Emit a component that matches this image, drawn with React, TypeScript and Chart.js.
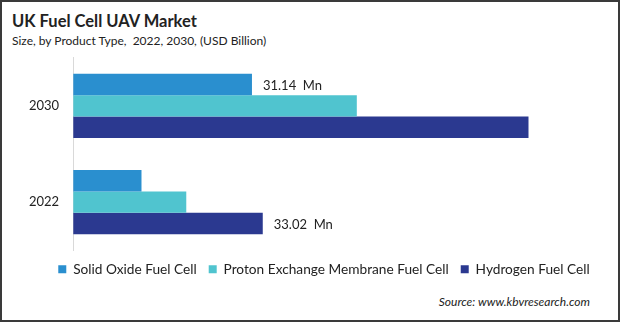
import React, { useEffect, useRef } from "react";
import { Chart, registerables } from "chart.js";

Chart.register(...registerables);

const categories = ["2030", "2022"];
const seriesNames = ["Solid Oxide Fuel Cell", "Proton Exchange Membrane Fuel Cell", "Hydrogen Fuel Cell"];
const solidOxide = [31.14, 11.9];
const protonExchange = [49.4, 19.7];
const hydrogen = [79.3, 33.02];
const solidOxideLabels = ["31.14  Mn", ""];
const protonExchangeLabels = ["", ""];
const hydrogenLabels = ["", "33.02  Mn"];
const colors = ["#2a8fcf", "#50c4cf", "#2b3990"];

const FONT = "Lato, 'Open Sans', sans-serif";

const valueLabelPlugin = {
  id: "valueLabels",
  afterDatasetsDraw(chart: any) {
    const ctx = chart.ctx;
    const labelSets = [solidOxideLabels, protonExchangeLabels, hydrogenLabels];
    ctx.save();
    ctx.font = `13px ${FONT}`;
    ctx.fillStyle = "#222";
    ctx.textBaseline = "middle";
    ctx.textAlign = "left";
    labelSets.forEach((labels, di) => {
      const meta = chart.getDatasetMeta(di);
      labels.forEach((lab, i) => {
        if (!lab) return;
        const el = meta.data[i];
        ctx.fillText(lab, el.x + 11, el.y + 1);
      });
    });
    ctx.restore();
  },
};

export default function App() {
  const ref = useRef<HTMLCanvasElement>(null);
  useEffect(() => {
    document.body.style.margin = "0";
    const chart = new Chart(ref.current!, {
      type: "bar",
      data: {
        labels: categories,
        datasets: [
          { label: seriesNames[0], data: solidOxide, backgroundColor: colors[0] },
          { label: seriesNames[1], data: protonExchange, backgroundColor: colors[1] },
          { label: seriesNames[2], data: hydrogen, backgroundColor: colors[2] },
        ],
      },
      options: {
        indexAxis: "y",
        animation: false,
        responsive: false,
        maintainAspectRatio: false,
        datasets: { bar: { categoryPercentage: 0.667, barPercentage: 1 } },
        layout: { padding: { left: 13, right: 20, top: 10, bottom: 2 } },
        scales: {
          x: { display: false, min: 0, max: 97.5 },
          y: {
            grid: { display: false, drawTicks: false },
            border: { display: true, color: "#d9d9d9", width: 1 },
            ticks: { color: "#222", font: { size: 13, family: FONT }, padding: 14 },
          },
        },
        plugins: {
          tooltip: { enabled: false },
          legend: {
            position: "bottom",
            labels: {
              boxWidth: 8,
              boxHeight: 8,
              color: "#222",
              padding: 12,
              font: { size: 13.7, family: FONT },
            },
          },
        },
      },
      plugins: [valueLabelPlugin],
    });
    return () => chart.destroy();
  }, []);

  return (
    <div
      style={{
        position: "relative",
        width: 620,
        height: 322,
        boxSizing: "border-box",
        border: "2px solid #3a3a3a",
        background: "#fff",
        fontFamily: FONT,
        overflow: "hidden",
      }}
    >
      <div style={{ position: "absolute", left: 10, top: 9, fontSize: 16.5, fontWeight: 700, color: "#222" }}>
        UK Fuel Cell UAV Market
      </div>
      <div style={{ position: "absolute", left: 10, top: 31, fontSize: 12, color: "#222", whiteSpace: "pre" }}>
        {"Size, by Product Type,  2022, 2030, (USD Billion)"}
      </div>
      <canvas ref={ref} width={651} height={252} style={{ position: "absolute", left: 0, top: 34 }} />
      <div style={{ position: "absolute", right: 28, top: 292, fontSize: 12, fontStyle: "italic", color: "#222" }}>
        Source: www.kbvresearch.com
      </div>
    </div>
  );
}
